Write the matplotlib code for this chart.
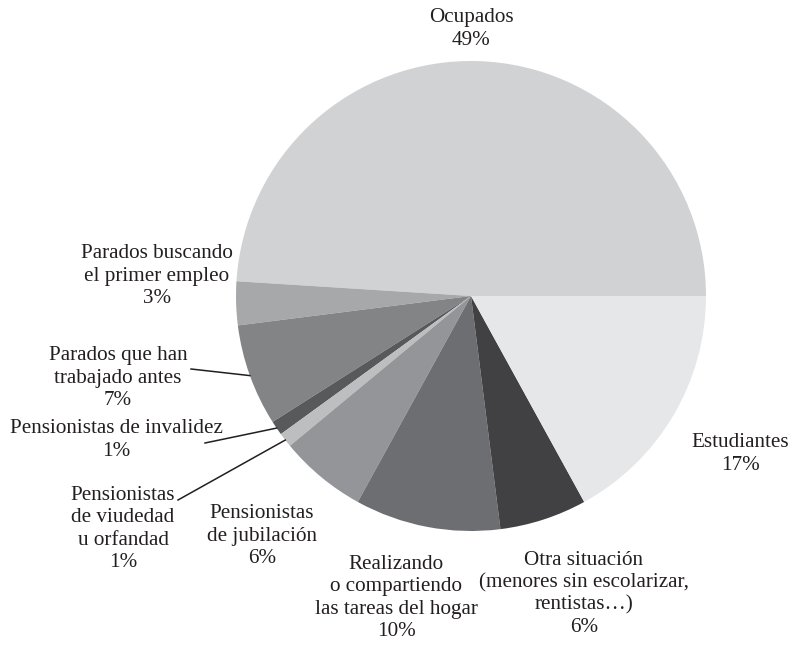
import numpy as np
import matplotlib
matplotlib.use('Agg')
import matplotlib.pyplot as plt

plt.rcParams['font.family'] = ['Liberation Serif', 'DejaVu Serif']

labels = ['Ocupados', 'Parados buscando\nel primer empleo', 'Parados que han\ntrabajado antes',
          'Pensionistas de invalidez', 'Pensionistas\nde viudedad\nu orfandad',
          'Pensionistas\nde jubilación', 'Realizando\no compartiendo\nlas tareas del hogar',
          'Otra situación\n(menores sin escolarizar,\nrentistas…)', 'Estudiantes']
values = [49, 3, 7, 1, 1, 6, 10, 6, 17]
colors = ['#d1d2d4', '#a7a8aa', '#838486', '#58595b', '#bcbec0',
          '#939598', '#6d6e71', '#414042', '#e6e7e8']

# label block centres in pixels (x, y) of the 791x646 picture
label_px = [(471, 29), (157, 276), (118, 378), (116, 440), (123, 529),
            (262, 536), (396, 598), (584, 594), (740, 454)]
# start of leader lines (pixels), None = no line
leader_px = [None, None, (191, 369), (205, 443), (178, 500), None, None, None, None]

W, H = 791, 646
cx, cy, R = 471, 296, 235


def to_data(p):
    return (p[0] - cx) / R, (cy - p[1]) / R


fig = plt.figure(figsize=(W / 100, H / 100), dpi=100)
ax = fig.add_axes([0, 0, 1, 1])
wedges, _ = ax.pie(values, colors=colors, startangle=0, counterclock=True,
                   radius=1, wedgeprops=dict(linewidth=0))
ax.set_xlim(-cx / R, (W - cx) / R)
ax.set_ylim(-(H - cy) / R, cy / R)
ax.axis('off')

total = float(sum(values))
cum = np.cumsum([0] + values)
for i, lab in enumerate(labels):
    x, y = to_data(label_px[i])
    ax.text(x, y, '{}\n{}%'.format(lab, values[i]), ha='center', va='center',
            multialignment='center', fontsize=15.2, linespacing=1.22, color='#231f20')
    if leader_px[i] is not None:
        mid = np.deg2rad((cum[i] + cum[i + 1]) / 2 / total * 360)
        sx, sy = to_data(leader_px[i])
        ax.plot([sx, np.cos(mid)], [sy, np.sin(mid)], color='#231f20', lw=1.1)

fig.savefig('out.png', dpi=100, facecolor='white')
